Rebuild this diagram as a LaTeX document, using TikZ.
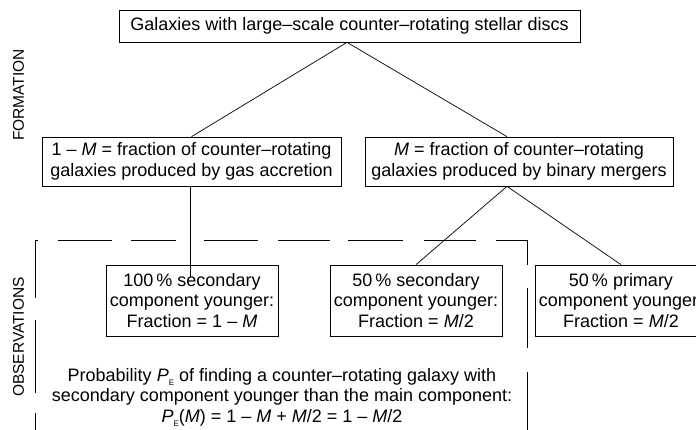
\documentclass[tikz,border=0pt]{standalone}
\usepackage{fontspec}
\setmainfont{Liberation Sans}
\newcommand\bodyfont{\fontsize{18}{20.5}\selectfont}
\newcommand\labelfont{\fontsize{15.5}{18}\selectfont}
\newcommand\subE{\raisebox{-4pt}{\fontsize{8}{8}\selectfont E}}
\tikzset{
  boxnode/.style={draw, line width=0.7pt, inner sep=0pt, align=center, font=\bodyfont},
  link/.style={line width=0.7pt},
  framepart/.style={line width=0.8pt},
  sidelabel/.style={rotate=90, font=\labelfont, inner sep=0pt},
}
\begin{document}
\begin{tikzpicture}[x=1pt,y=-1pt]
\useasboundingbox (0,0) rectangle (696,430);

% formation
\node[boxnode, minimum width=461pt, minimum height=32pt] (top) at (349.5,26)
  {Galaxies with large–scale counter–rotating stellar discs};
\node[boxnode, minimum width=299pt, minimum height=49pt] (f1) at (191.5,161.5)
  {1 – \textit{M} = fraction of counter–rotating\\galaxies produced by gas accretion};
\node[boxnode, minimum width=308pt, minimum height=49pt] (f2) at (519,161.5)
  {\textit{M} = fraction of counter–rotating\\galaxies produced by binary mergers};

% observations
\node[boxnode, minimum width=172pt, minimum height=71pt] (o1) at (192,300.5)
  {100\,\% secondary\\component younger:\\Fraction = 1 – \textit{M}};
\node[boxnode, minimum width=172pt, minimum height=71pt] (o2) at (416,300.5)
  {50\,\% secondary\\component younger:\\Fraction = \textit{M}/2};
\node[boxnode, minimum width=172pt, minimum height=71pt] (o3) at (621,300.5)
  {50\,\% primary\\component younger:\\Fraction = \textit{M}/2};

\node[align=center, font=\bodyfont, inner sep=0pt] (prob) at (282,397)
  {Probability \textit{P}\subE{} of finding a counter–rotating galaxy with\\
   secondary component younger than the main component:\\
   \textit{P}\subE(\textit{M}) = 1 – \textit{M} + \textit{M}/2 = 1 – \textit{M}/2};

\node[sidelabel] (lf) at (18.5,95) {FORMATION};
\node[sidelabel] (lo) at (18.5,337) {OBSERVATIONS};

% connectors
\draw[link] ([xshift=-2.5pt]top.south) -- (f1.north);
\draw[link] ([xshift=-2.5pt]top.south) -- ([xshift=-12pt]f2.north);
\draw[link] ([xshift=-12pt]f2.south) -- (o2.north);
\draw[link] ([xshift=-12pt]f2.south) -- (o3.north);
\draw[link] ([xshift=-1.5pt]f1.south) -- ([xshift=-2pt,yshift=-12pt]o1.north);

% dashed frame
\draw[framepart] (58,240) -- (112,240);
\draw[framepart] (131,240) -- (176,240);
\draw[framepart] (204,240) -- (258,240);
\draw[framepart] (278,240) -- (330,240);
\draw[framepart] (348,240) -- (403,240);
\draw[framepart] (424,240) -- (476,240);
\draw[framepart] (496,240) -- (527,240) -- (527,265);
\draw[framepart] (527,288) -- (527,348);
\draw[framepart] (527,372) -- (527,430);
\draw[framepart] (38,240) -- (35,240) -- (35,298);
\draw[framepart] (35,320) -- (35,393);
\draw[framepart] (35,413) -- (35,430);
\end{tikzpicture}
\end{document}
